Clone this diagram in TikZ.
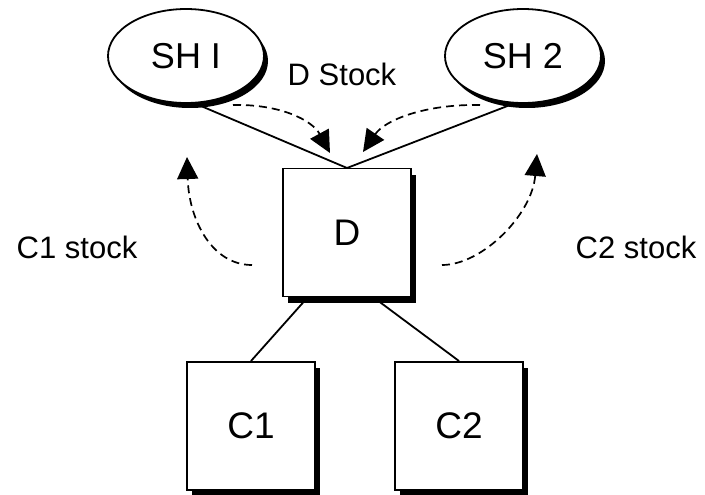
\documentclass[tikz,border=0pt]{standalone}
\usepackage{fontspec}
\setmainfont{Liberation Sans}
\usetikzlibrary{shapes.geometric,shadows,arrows.meta,calc}
\begin{document}
\begin{tikzpicture}[x=1pt,y=-1pt,
  lw/.style={line width=1.8pt},
  shnode/.style={ellipse,draw,lw,fill=white,minimum width=156pt,minimum height=94pt,inner sep=0pt,
    drop shadow={shadow xshift=4pt,shadow yshift=-5pt,opacity=1,fill=black},font=\fontsize{36}{40}\selectfont},
  boxnode/.style={rectangle,draw,lw,fill=white,minimum width=128pt,minimum height=128pt,inner sep=0pt,
    drop shadow={shadow xshift=5pt,shadow yshift=-6pt,opacity=1,fill=black},font=\fontsize{37}{42}\selectfont},
  lbl/.style={anchor=base,inner sep=0pt,font=\fontsize{31}{36}\selectfont},
  conn/.style={lw},
  flow/.style={line width=1.7pt,dash pattern=on 8pt off 5pt,-{Triangle[length=22pt,width=21pt]}}
]
\useasboundingbox (0,0) rectangle (705,495);
\node[shnode] (sh1) at (186,56) {SH I};
\node[shnode] (sh2) at (523,56) {SH 2};
\coordinate (dtop) at (347,168);
\coordinate (dbl) at (308,297);
\coordinate (dbr) at (373,297);
\draw[conn] (sh1.-79) -- (dtop);
\draw[conn] (sh2.-101) -- (dtop);
\draw[conn] (dbl) -- (251,361) coordinate (c1top);
\draw[conn] (dbr) -- (459,361) coordinate (c2top);
\node[boxnode] (d) at (347,232.5) {D};
\node[boxnode,anchor=north] (c1) at (c1top) {C1};
\node[boxnode,anchor=north] (c2) at (c2top) {C2};
\node[lbl] (dstock) at (342,86) {D Stock};
\node[lbl] (c1stock) at (77,258) {C1 stock};
\node[lbl] (c2stock) at (636,258) {C2 stock};
\coordinate (a1s) at (233,105);
\coordinate (a1e) at (330,153);
\coordinate (a2s) at (480,105);
\coordinate (a2e) at (363,152);
\coordinate (a3s) at (252,265);
\coordinate (a3e) at (187,157);
\coordinate (a4s) at (442,265);
\coordinate (a4e) at (537,154);
\draw[flow] (a1s) .. controls (280,104) and (312,120) .. (a1e);
\draw[flow] (a2s) .. controls (425,104) and (385,120) .. (a2e);
\draw[flow] (a3s) .. controls (212,265) and (189,220) .. (a3e);
\draw[flow] (a4s) .. controls (482,265) and (532,215) .. (a4e);
\end{tikzpicture}
\end{document}
